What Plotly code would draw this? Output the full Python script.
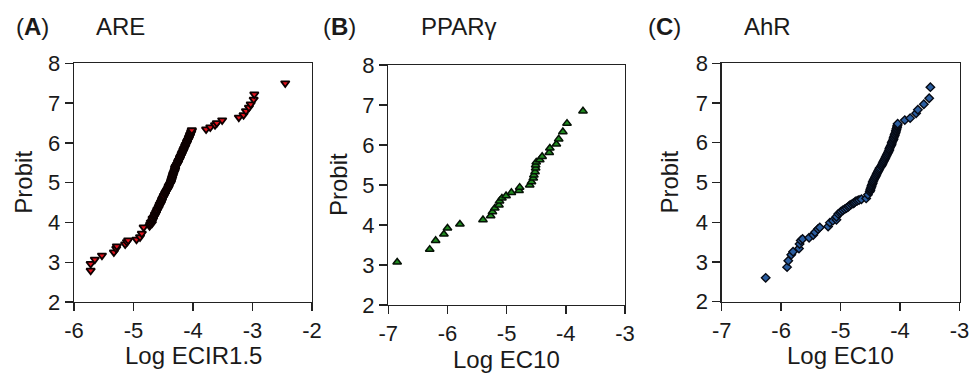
import plotly.graph_objects as go

# ---------------- Panel A: ARE (Log ECIR1.5 vs Probit) ----------------
a_low_x = [-5.72, -5.72, -5.65, -5.53, -5.33, -5.29, -5.28, -5.14, -5.11, -5.09, -4.95, -4.89, -4.86, -4.83, -4.73]
a_low_y = [2.79, 2.96, 3.07, 3.17, 3.25, 3.34, 3.40, 3.45, 3.51, 3.55, 3.57, 3.63, 3.72, 3.88, 3.91]

a_mid_y = [3.95, 3.97, 4.00, 4.02, 4.05, 4.07, 4.10, 4.12, 4.15, 4.17, 4.20, 4.22, 4.25, 4.27, 4.30, 4.32,
           4.35, 4.37, 4.40, 4.42, 4.45, 4.47, 4.50, 4.52, 4.55, 4.57, 4.60, 4.62, 4.65, 4.67, 4.70, 4.72,
           4.75, 4.77, 4.80, 4.82, 4.85, 4.87, 4.90, 4.92, 4.95, 4.97, 5.00, 5.02, 5.05, 5.07, 5.10, 5.12,
           5.15, 5.17, 5.20, 5.22, 5.25, 5.27, 5.30, 5.32, 5.35, 5.37, 5.40, 5.42, 5.45, 5.47, 5.50, 5.52,
           5.55, 5.57, 5.60, 5.62, 5.65, 5.67, 5.70, 5.72, 5.75, 5.77, 5.80, 5.82, 5.85, 5.87, 5.90, 5.92,
           5.95, 5.97, 6.00, 6.02, 6.05, 6.07, 6.10, 6.12, 6.15, 6.17, 6.20, 6.22, 6.25, 6.27, 6.30, 6.32]
a_mid_x = [-4.72, -4.69, -4.71, -4.69, -4.68, -4.67, -4.68, -4.66, -4.65, -4.64, -4.64, -4.62, -4.62, -4.61, -4.60, -4.60,
           -4.58, -4.58, -4.57, -4.56, -4.56, -4.54, -4.54, -4.53, -4.52, -4.52, -4.51, -4.50, -4.49, -4.49, -4.47, -4.47,
           -4.46, -4.45, -4.44, -4.43, -4.42, -4.41, -4.41, -4.40, -4.39, -4.38, -4.37, -4.37, -4.36, -4.36, -4.35, -4.35,
           -4.34, -4.34, -4.33, -4.33, -4.32, -4.31, -4.31, -4.30, -4.30, -4.30, -4.29, -4.28, -4.27, -4.26, -4.25, -4.25,
           -4.24, -4.23, -4.22, -4.22, -4.21, -4.20, -4.19, -4.19, -4.18, -4.17, -4.16, -4.16, -4.15, -4.14, -4.13, -4.13,
           -4.12, -4.11, -4.10, -4.10, -4.09, -4.08, -4.07, -4.07, -4.06, -4.05, -4.05, -4.04, -4.03, -4.03, -4.02, -4.02]

a_high_x = [-3.78, -3.71, -3.63, -3.60, -3.51, -3.23, -3.15, -3.11, -3.06, -3.03, -2.98, -2.97, -2.45]
a_high_y = [6.34, 6.39, 6.45, 6.50, 6.57, 6.64, 6.70, 6.80, 6.89, 6.97, 7.09, 7.22, 7.50]

# ---------------- Panel B: PPARγ (Log EC10 vs Probit) ----------------
b_x = [-6.85, -6.30, -6.20, -6.06, -6.00, -5.79, -5.40, -5.27, -5.24, -5.20, -5.13, -5.12, -5.08, -5.01, -4.92,
       -4.79, -4.78, -4.61, -4.58, -4.55, -4.54, -4.52, -4.51, -4.51, -4.50, -4.44, -4.40, -4.28, -4.27, -4.16,
       -4.12, -4.05, -3.98, -3.71]
b_y = [3.07, 3.39, 3.61, 3.77, 3.92, 4.02, 4.13, 4.23, 4.33, 4.42, 4.50, 4.60, 4.67, 4.73, 4.81,
       4.86, 4.94, 5.00, 5.08, 5.17, 5.25, 5.33, 5.42, 5.50, 5.57, 5.63, 5.71, 5.81, 5.92, 6.02,
       6.15, 6.33, 6.54, 6.85]

# ---------------- Panel C: AhR (Log EC10 vs Probit) ----------------
c_low_x = [-6.26, -5.90, -5.88, -5.83, -5.80, -5.70, -5.69, -5.67, -5.64, -5.53, -5.46, -5.43, -5.38, -5.35, -5.21,
           -5.18, -5.13, -5.07, -5.07, -5.04, -5.01, -4.99, -4.96, -4.93, -4.90, -4.87, -4.85, -4.82, -4.79, -4.77,
           -4.75, -4.72, -4.69, -4.65, -4.57, -4.54, -4.51]
c_low_y = [2.60, 2.87, 3.03, 3.18, 3.26, 3.34, 3.45, 3.54, 3.58, 3.61, 3.68, 3.75, 3.83, 3.87, 3.89,
           3.99, 4.04, 4.06, 4.14, 4.21, 4.24, 4.27, 4.30, 4.33, 4.36, 4.39, 4.42, 4.45, 4.47, 4.49,
           4.52, 4.54, 4.56, 4.58, 4.60, 4.69, 4.77]

c_mid_y = [4.80, 4.83, 4.86, 4.89, 4.92, 4.95, 4.98, 5.01, 5.04, 5.07, 5.10, 5.13, 5.16, 5.19, 5.22, 5.25,
           5.28, 5.31, 5.34, 5.37, 5.40, 5.43, 5.46, 5.49, 5.52, 5.55, 5.58, 5.61, 5.64, 5.67, 5.70, 5.73,
           5.76, 5.79, 5.82, 5.85, 5.88, 5.91, 5.94, 5.97, 6.00, 6.03, 6.06, 6.09, 6.12, 6.15, 6.18, 6.21,
           6.24, 6.27, 6.30, 6.33, 6.36, 6.39, 6.42, 6.45, 6.48]
c_mid_x = [-4.50, -4.50, -4.49, -4.48, -4.48, -4.47, -4.46, -4.46, -4.45, -4.44, -4.43, -4.42, -4.41, -4.40, -4.39, -4.38,
           -4.37, -4.36, -4.35, -4.34, -4.32, -4.31, -4.30, -4.29, -4.28, -4.27, -4.26, -4.25, -4.24, -4.23, -4.22, -4.21,
           -4.20, -4.19, -4.18, -4.18, -4.17, -4.16, -4.15, -4.14, -4.14, -4.13, -4.12, -4.11, -4.11, -4.10, -4.09, -4.09,
           -4.08, -4.07, -4.07, -4.06, -4.06, -4.05, -4.05, -4.04, -4.04]

c_high_x = [-3.92, -3.83, -3.73, -3.70, -3.60, -3.51, -3.49]
c_high_y = [6.57, 6.62, 6.74, 6.83, 6.97, 7.12, 7.40]

# tick labels
y_ticks = [2, 3, 4, 5, 6, 7, 8]
y_ticktext = ["2", "3", "4", "5", "6", "7", "8"]
xa_ticks = [-6, -5, -4, -3, -2]
xa_ticktext = ["-6", "-5", "-4", "-3", "-2"]
xbc_ticks = [-7, -6, -5, -4, -3]
xbc_ticktext = ["-7", "-6", "-5", "-4", "-3"]

panel_labels = ["A", "B", "C"]
panel_titles = ["ARE", "PPARγ", "AhR"]
x_titles = ["Log ECIR1.5", "Log EC10", "Log EC10"]
y_title = "Probit"

# the page body margin is removed (see post_script), so page pixels == figure pixels
W, H = 971, 375
FONT = "Liberation Sans, Arial, Helvetica, sans-serif"
TXT = "#1a1a1a"


def px(v):
    return v / W


def py(v):
    return 1 - v / H


fig = go.Figure()

fig.add_trace(go.Scatter(
    x=a_low_x + a_mid_x + a_high_x, y=a_low_y + a_mid_y + a_high_y,
    mode="markers", xaxis="x", yaxis="y",
    marker=dict(symbol="triangle-down", size=7.5, color="#e3121c",
                line=dict(color="#0d0000", width=1.8)),
    showlegend=False))
fig.add_trace(go.Scatter(
    x=b_x, y=b_y, mode="markers", xaxis="x2", yaxis="y2",
    marker=dict(symbol="triangle-up", size=7.5, color="#1f8a1f",
                line=dict(color="#061206", width=1.5)),
    showlegend=False))
fig.add_trace(go.Scatter(
    x=c_low_x + c_mid_x + c_high_x, y=c_low_y + c_mid_y + c_high_y,
    mode="markers", xaxis="x3", yaxis="y3",
    marker=dict(symbol="diamond", size=6.5, color="#2a5d9f",
                line=dict(color="#060a14", width=1.4)),
    showlegend=False))

# plot-area boxes in page pixels: (left, right, top, bottom)
boxes = [(74, 312, 63.3, 302), (388.3, 625, 65, 305), (721.7, 959.5, 63.3, 301.7)]
xranges = [[-6, -2], [-7, -3], [-7, -3]]
xtickvals = [xa_ticks, xbc_ticks, xbc_ticks]
xticktexts = [xa_ticktext, xbc_ticktext, xbc_ticktext]

axis_common = dict(showline=True, linecolor="#222", linewidth=1.4, mirror=True,
                   ticks="outside", ticklen=8, tickwidth=1.4, tickcolor="#222",
                   showgrid=False, zeroline=False, automargin=False,
                   ticklabeloverflow="allow",
                   tickfont=dict(family=FONT, size=22, color=TXT))

layout = dict(width=W, height=H, margin=dict(l=0, r=0, t=0, b=0, autoexpand=False),
              paper_bgcolor="white", plot_bgcolor="white", font=dict(family=FONT, color=TXT),
              hovermode=False)

for i, (l, r, t, b) in enumerate(boxes):
    sfx = "" if i == 0 else str(i + 1)
    layout["xaxis" + sfx] = dict(axis_common, domain=[px(l), px(r)], range=xranges[i],
                                 tickmode="array", tickvals=xtickvals[i], ticktext=xticktexts[i],
                                 anchor="y" + sfx)
    layout["yaxis" + sfx] = dict(axis_common, domain=[py(b), py(t)], range=[2, 8],
                                 tickmode="array", tickvals=y_ticks, ticktext=y_ticktext,
                                 anchor="x" + sfx)

fig.update_layout(**layout)

label_x = [14, 321, 646]
title_x = [94, 419, 742]
xtitle_y = [355, 359, 355]
ytitle_x = [24, 338, 669]
for i, (l, r, t, b) in enumerate(boxes):
    fig.add_annotation(x=px(label_x[i]), y=py(27), xref="paper", yref="paper",
                       xanchor="left", yanchor="middle", showarrow=False,
                       text="(<b>" + panel_labels[i] + "</b>)",
                       font=dict(family=FONT, size=24, color=TXT))
    fig.add_annotation(x=px(title_x[i]), y=py(27), xref="paper", yref="paper",
                       xanchor="left", yanchor="middle", showarrow=False,
                       text=panel_titles[i],
                       font=dict(family=FONT, size=24, color=TXT))
    fig.add_annotation(x=px((l + r) / 2), y=py(xtitle_y[i]), xref="paper", yref="paper",
                       xanchor="center", yanchor="middle", showarrow=False,
                       text=x_titles[i], font=dict(family=FONT, size=24, color=TXT))
    fig.add_annotation(x=px(ytitle_x[i]), y=py((t + b) / 2), xref="paper", yref="paper",
                       xanchor="center", yanchor="middle", showarrow=False, textangle=-90,
                       text=y_title, font=dict(family=FONT, size=24, color=TXT))

fig.write_html("out.html",
               config={"displayModeBar": False, "staticPlot": True},
               post_script="document.body.style.margin='0';document.body.style.overflow='hidden';")
